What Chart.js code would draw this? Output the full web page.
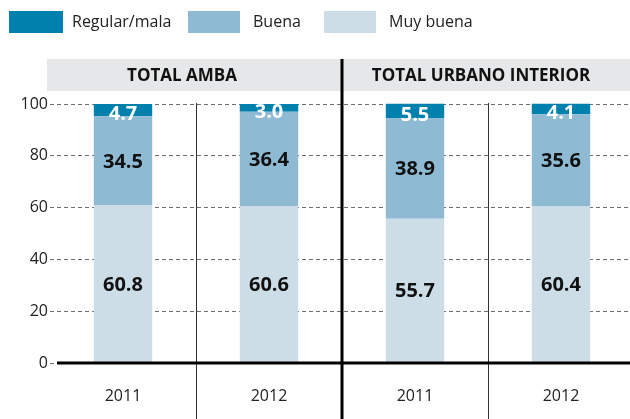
<!DOCTYPE html>
<html>
<head>
<meta charset="utf-8">
<script src="https://cdn.jsdelivr.net/npm/chart.js@4"></script>
<style>
  html, body { margin: 0; padding: 0; background: #fff; overflow: hidden; width: 630px; height: 419px; }
  #wrap { position: relative; width: 636px; height: 419px; }
  canvas { display: block; }
  .sw { position: absolute; top: 11px; height: 22px; }
  .lt { position: absolute; top: 10px; line-height: 24px; font: 16px "Open Sans", sans-serif; color: #222; }
</style>
</head>
<body>
<div id="wrap">
  <canvas id="chart"></canvas>
  <div class="sw" style="left:9px;width:54px;background:#0080ad"></div>
  <div class="lt" style="left:72px">Regular/mala</div>
  <div class="sw" style="left:188px;width:52px;background:#8fbad3"></div>
  <div class="lt" style="left:253px">Buena</div>
  <div class="sw" style="left:324px;width:52px;background:#cddde7"></div>
  <div class="lt" style="left:389px">Muy buena</div>
</div>
<script>
const categories = ['2011', '2012', '2011', '2012'];
const groups = ['TOTAL AMBA', 'TOTAL URBANO INTERIOR'];
const muyBuena = [60.8, 60.6, 55.7, 60.4];
const buena = [34.5, 36.4, 38.9, 35.6];
const regularMala = [4.7, 3.0, 5.5, 4.1];
const yTicks = [0, 20, 40, 60, 80, 100];

const font = '"Open Sans", sans-serif';

// header band, group titles, dividers and baseline
const frame = {
    id: 'frame',
    beforeDraw(chart) {
        const ctx = chart.ctx;
        ctx.save();
        ctx.fillStyle = '#e6e7e8';
        ctx.fillRect(47, 59, 600, 32);
        ctx.fillStyle = '#111';
        ctx.font = 'bold 17px ' + font;
        ctx.textAlign = 'center';
        ctx.textBaseline = 'middle';
        ctx.fillText(groups[0], 182, 76);
        ctx.fillText(groups[1], 481, 76);
        ctx.restore();
    },
    afterDraw(chart) {
        const ctx = chart.ctx;
        const x = chart.scales.x;
        const y = chart.scales.y;
        const bound = i => (x.getPixelForValue(i) + x.getPixelForValue(i + 1)) / 2;
        ctx.save();
        ctx.strokeStyle = '#333';
        ctx.lineWidth = 1;
        [0, 2].forEach(i => {
            const px = Math.round(bound(i)) + 0.5;
            ctx.beginPath();
            ctx.moveTo(px, 103);
            ctx.lineTo(px, 419);
            ctx.stroke();
        });
        ctx.strokeStyle = '#000';
        ctx.lineWidth = 3;
        const mid = Math.round(bound(1));
        ctx.beginPath();
        ctx.moveTo(mid, 59);
        ctx.lineTo(mid, 419);
        ctx.stroke();
        const y0 = y.getPixelForValue(0);
        ctx.beginPath();
        ctx.moveTo(chart.chartArea.left + 7, y0);
        ctx.lineTo(640, y0);
        ctx.stroke();
        ctx.restore();
    },
    afterDatasetsDraw(chart) {
        const ctx = chart.ctx;
        ctx.save();
        ctx.font = 'bold 20px ' + font;
        ctx.textAlign = 'center';
        ctx.textBaseline = 'middle';
        chart.data.datasets.forEach((ds, di) => {
            chart.getDatasetMeta(di).data.forEach((bar, i) => {
                const cy = (bar.y + bar.base) / 2;
                const top = di === 2;
                ctx.fillStyle = top ? '#fff' : '#111';
                ctx.fillText(ds.data[i].toFixed(1), bar.x, top ? cy + 4 : cy + 1);
            });
        });
        ctx.restore();
    }
};

new Chart(document.getElementById('chart'), {
    type: 'bar',
    data: {
        labels: categories,
        datasets: [
            { label: 'Muy buena', data: muyBuena, backgroundColor: '#cddde7' },
            { label: 'Buena', data: buena, backgroundColor: '#8fbad3' },
            { label: 'Regular/mala', data: regularMala, backgroundColor: '#0080ad' }
        ]
    },
    options: {
        responsive: true,
        maintainAspectRatio: false,
        animation: false,
        layout: { padding: { top: 104, left: 0, right: 2, bottom: 14 } },
        datasets: { bar: { barPercentage: 0.4, categoryPercentage: 1, borderWidth: 0, clip: false } },
        plugins: { legend: { display: false }, tooltip: { enabled: false } },
        scales: {
            x: {
                stacked: true,
                afterFit: s => { s.height = 42; },
                grid: { display: false },
                border: { display: false },
                ticks: { color: '#222', font: { family: font, size: 16 }, padding: 16 }
            },
            y: {
                stacked: true,
                min: 0,
                max: 100,
                afterBuildTicks: s => { s.ticks = yTicks.map(v => ({ value: v })); },
                afterFit: s => { s.width = 50; },
                border: { display: false, dash: [4, 3] },
                grid: { color: '#6e6e6e', drawTicks: false, lineWidth: 1 },
                ticks: { color: '#222', font: { family: font, size: 16 }, padding: 2 }
            }
        }
    },
    plugins: [frame]
});
</script>
</body>
</html>
